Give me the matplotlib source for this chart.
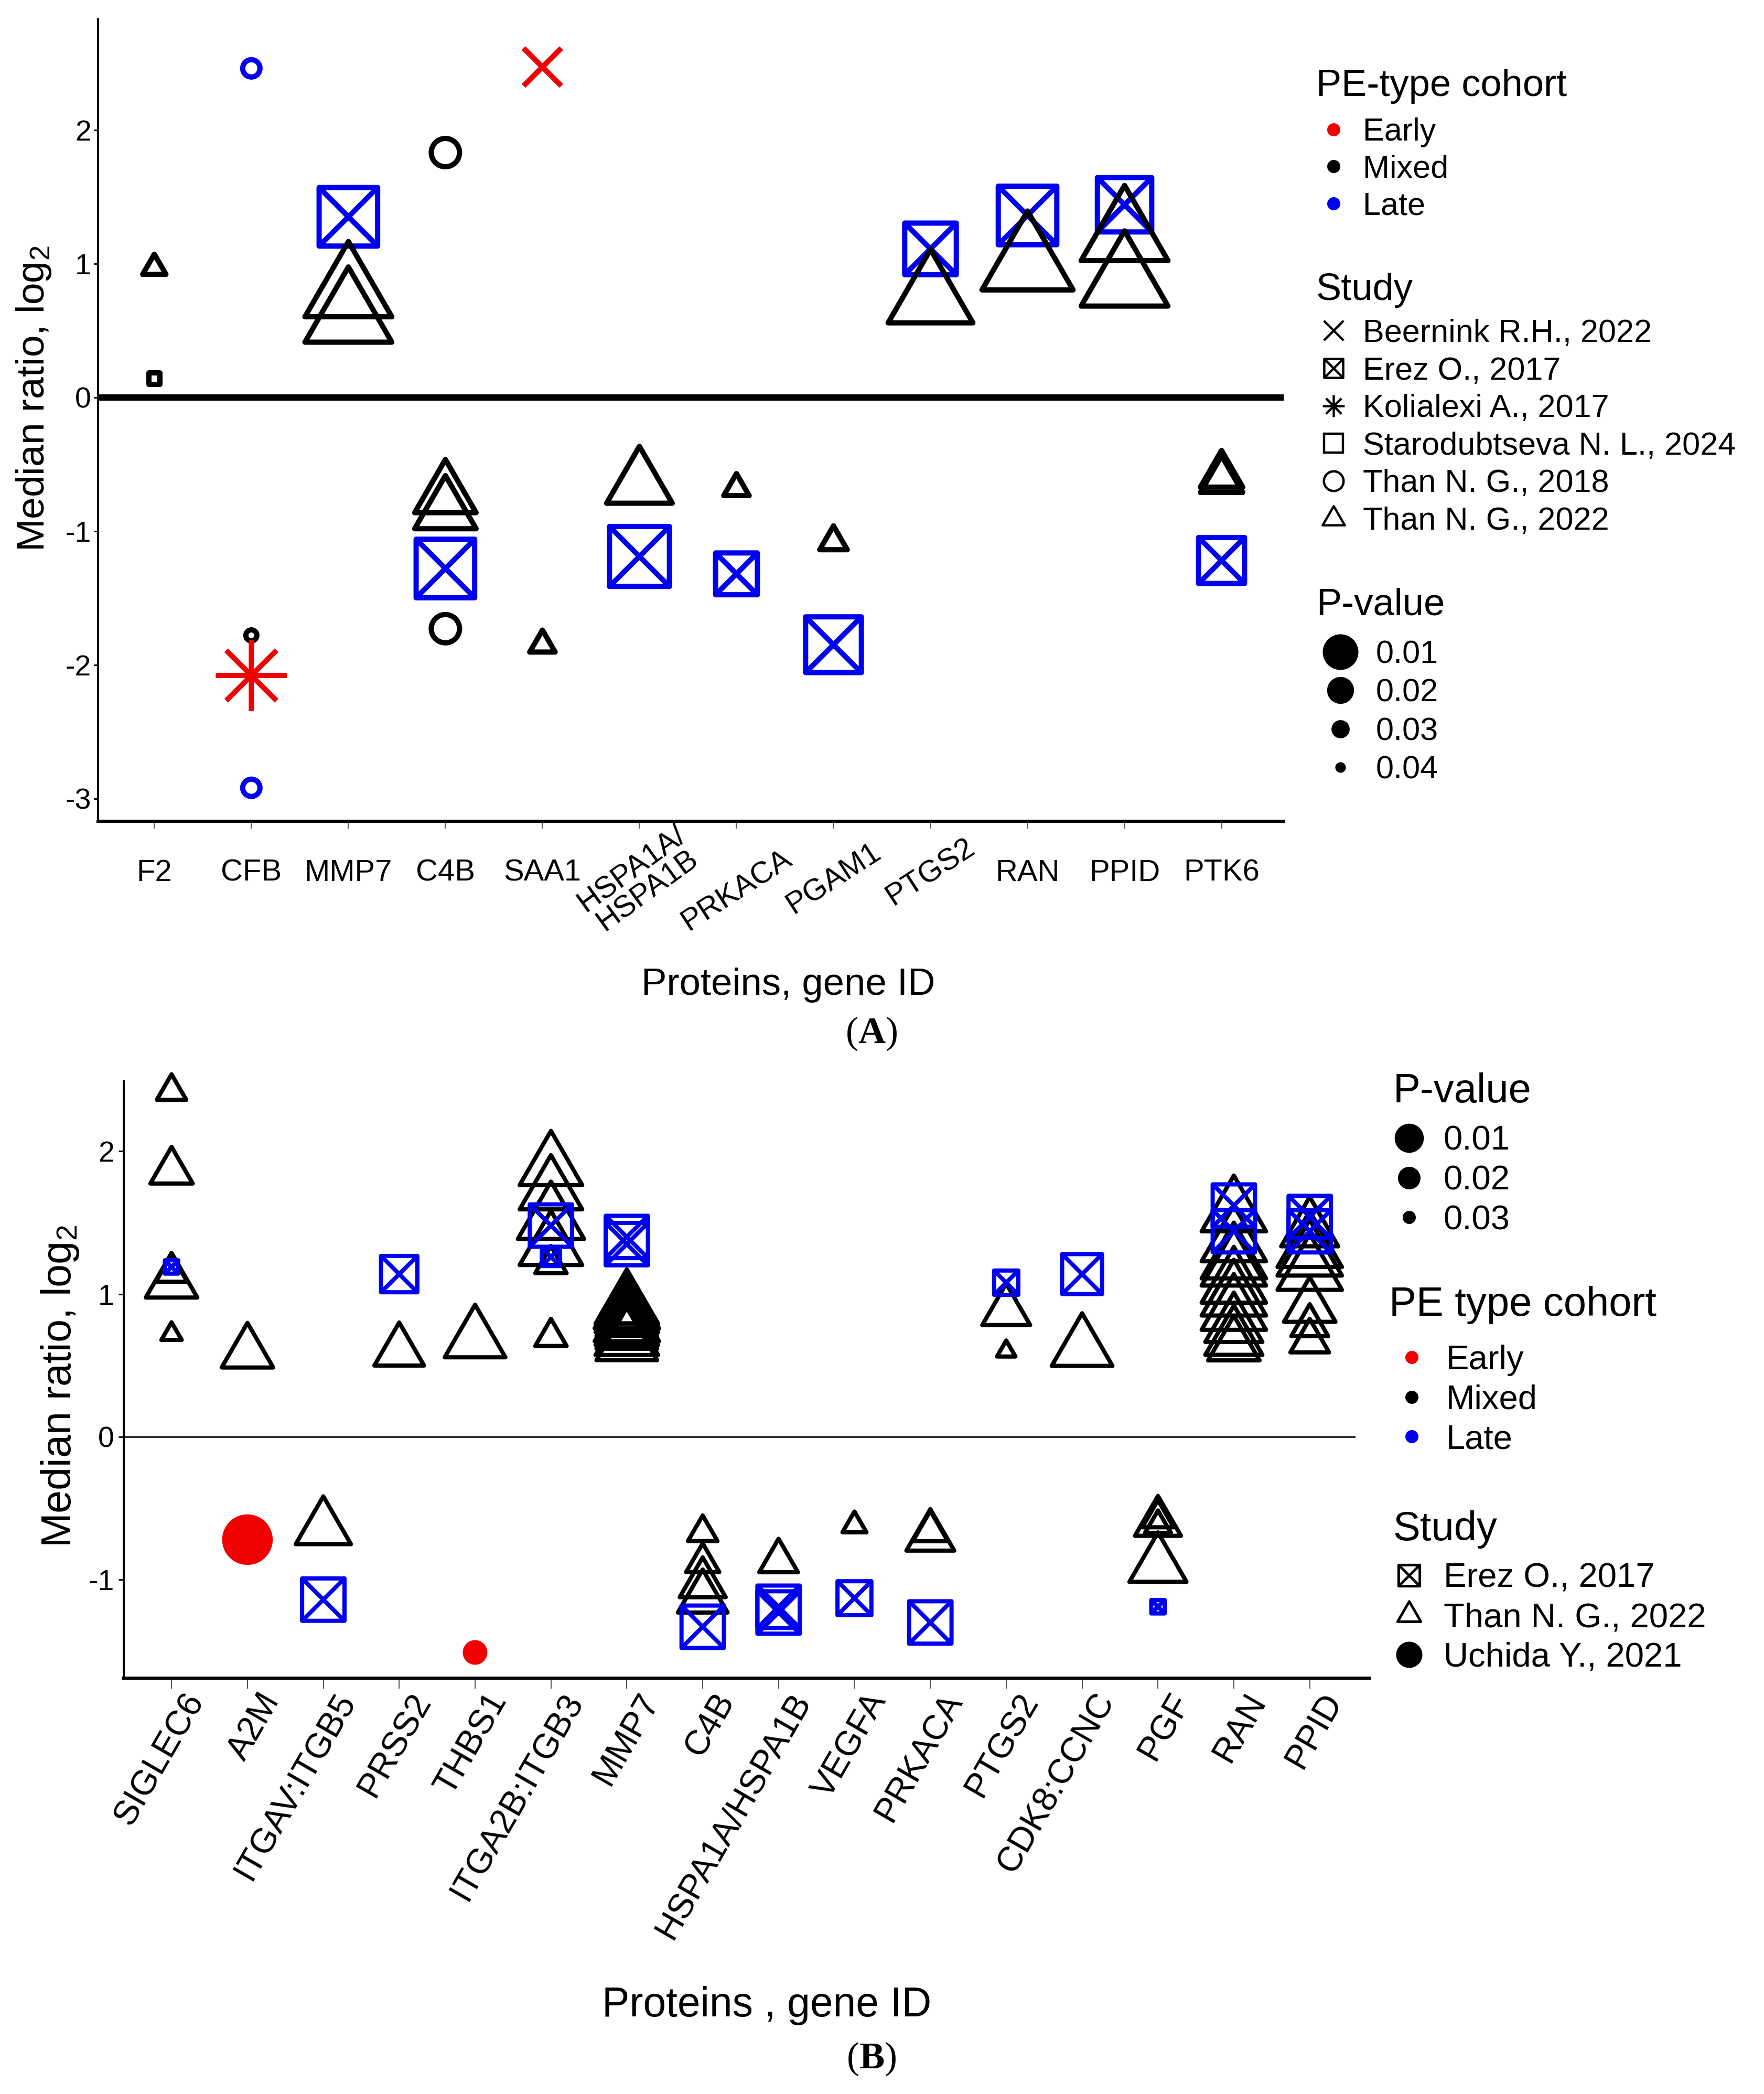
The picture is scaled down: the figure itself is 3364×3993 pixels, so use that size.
import matplotlib
matplotlib.use("Agg")
import matplotlib.pyplot as plt
from matplotlib.path import Path
from matplotlib.lines import Line2D
from matplotlib import font_manager

# ---------------- data: panel A ----------------
genes_a = ['F2', 'CFB', 'MMP7', 'C4B', 'SAA1', 'HSPA1A/HSPA1B', 'PRKACA',
           'PGAM1', 'PTGS2', 'RAN', 'PPID', 'PTK6']
ticks_a = ['F2', 'CFB', 'MMP7', 'C4B', 'SAA1', 'HSPA1A/\nHSPA1B', 'PRKACA',
           'PGAM1', 'PTGS2', 'RAN', 'PPID', 'PTK6']

a_gene = ['F2', 'F2', 'CFB', 'CFB', 'CFB', 'CFB', 'MMP7', 'MMP7', 'MMP7',
          'C4B', 'C4B', 'C4B', 'C4B', 'C4B', 'SAA1', 'SAA1',
          'HSPA1A/HSPA1B', 'HSPA1A/HSPA1B', 'PRKACA', 'PRKACA', 'PGAM1', 'PGAM1',
          'PTGS2', 'PTGS2', 'RAN', 'RAN', 'PPID', 'PPID', 'PPID',
          'PTK6', 'PTK6', 'PTK6']
a_ratio = [0.97, 0.14, 2.46, -1.78, -2.08, -2.92, 1.35, 0.79, 0.60,
           1.83, -0.73, -0.85, -1.28, -1.73, 2.47, -1.85,
           -0.65, -1.19, -0.68, -1.32, -1.08, -1.85,
           0.74, 1.11, 1.00, 1.36, 1.21, 0.87, 1.44,
           -0.58, -0.62, -1.22]
a_study = ['than22', 'staro', 'than18', 'than18', 'koli', 'than18', 'erez', 'than22', 'than22',
           'than18', 'than22', 'than22', 'erez', 'than18', 'beer', 'than22',
           'than22', 'erez', 'than22', 'erez', 'than22', 'erez',
           'than22', 'erez', 'than22', 'erez', 'than22', 'than22', 'erez',
           'than22', 'than22', 'erez']
a_cohort = ['Mixed', 'Mixed', 'Late', 'Mixed', 'Early', 'Late', 'Late', 'Mixed', 'Mixed',
            'Mixed', 'Mixed', 'Mixed', 'Late', 'Mixed', 'Early', 'Mixed',
            'Mixed', 'Late', 'Mixed', 'Late', 'Mixed', 'Late',
            'Mixed', 'Late', 'Mixed', 'Late', 'Mixed', 'Mixed', 'Late',
            'Mixed', 'Mixed', 'Late']
a_pval = [0.037, 0.040, 0.037, 0.041, 0.016, 0.037, 0.006, 0.007, 0.007,
          0.030, 0.019, 0.019, 0.006, 0.030, 0.024, 0.036,
          0.017, 0.005, 0.036, 0.018, 0.035, 0.008,
          0.008, 0.011, 0.005, 0.006, 0.007, 0.007, 0.009,
          0.028, 0.028, 0.015]

# ---------------- data: panel B ----------------
genes_b = ['SIGLEC6', 'A2M', 'ITGAV:ITGB5', 'PRSS2', 'THBS1', 'ITGA2B:ITGB3', 'MMP7',
           'C4B', 'HSPA1A/HSPA1B', 'VEGFA', 'PRKACA', 'PTGS2', 'CDK8:CCNC', 'PGF',
           'RAN', 'PPID']

b_gene = (['SIGLEC6'] * 6 + ['A2M'] * 2 + ['ITGAV:ITGB5'] * 2 + ['PRSS2'] * 2
          + ['THBS1'] * 2 + ['ITGA2B:ITGB3'] * 8 + ['MMP7'] * 12 + ['C4B'] * 5
          + ['HSPA1A/HSPA1B'] * 3 + ['VEGFA'] * 2 + ['PRKACA'] * 3 + ['PTGS2'] * 3
          + ['CDK8:CCNC'] * 2 + ['PGF'] * 5 + ['RAN'] * 12 + ['PPID'] * 9)
b_ratio = [2.42, 1.86, 1.15, 1.08, 1.19, 0.72,
           0.59, -0.72,
           -0.64, -1.14,
           1.14, 0.60,
           0.68, -1.51,
           1.89, 1.72, 1.52, 1.33, 1.21, 0.70, 1.48, 1.26,
           0.92, 0.89, 0.86, 0.83, 0.80, 0.77, 0.74, 0.70, 0.66, 0.84, 1.40, 1.35,
           -0.67, -0.88, -1.03, -1.13, -1.33,
           -0.87, -1.19, -1.23,
           -0.62, -1.13,
           -0.70, -0.66, -1.30,
           1.08, 0.88, 0.60,
           1.14, 0.62,
           -0.60, -0.57, -0.62, -0.90, -1.19,
           1.62, 1.44, 1.57, 1.36, 1.24, 1.19, 1.07, 0.98, 0.88, 0.78, 0.69, 0.64,
           1.54, 1.44, 1.45, 1.32, 1.26, 1.16, 0.91, 0.78, 0.67]
b_study = (['than22', 'than22', 'than22', 'than22', 'erez', 'than22']
           + ['than22', 'uchida'] + ['than22', 'erez'] + ['erez', 'than22']
           + ['than22', 'uchida']
           + ['than22'] * 6 + ['erez', 'erez']
           + ['than22'] * 10 + ['erez', 'erez']
           + ['than22'] * 4 + ['erez']
           + ['than22', 'erez', 'erez'] + ['than22', 'erez']
           + ['than22', 'than22', 'erez'] + ['erez', 'than22', 'than22']
           + ['erez', 'than22'] + ['than22'] * 4 + ['erez']
           + ['erez', 'erez'] + ['than22'] * 10
           + ['erez', 'erez'] + ['than22'] * 7)
b_pval = [0.027, 0.020, 0.026, 0.015, 0.032, 0.032,
          0.015, 0.006,
          0.013, 0.008,
          0.013, 0.016,
          0.010, 0.025,
          0.009, 0.009, 0.007, 0.009, 0.026, 0.026, 0.008, 0.028,
          0.009, 0.008, 0.009, 0.010, 0.008, 0.009, 0.010, 0.009, 0.010, 0.031, 0.008, 0.008,
          0.027, 0.025, 0.018, 0.016, 0.008,
          0.022, 0.008, 0.008,
          0.030, 0.015,
          0.017, 0.024, 0.008,
          0.023, 0.017, 0.033,
          0.010, 0.010,
          0.018, 0.026, 0.029, 0.012, 0.032,
          0.008, 0.008, 0.008, 0.008, 0.008, 0.008, 0.008, 0.008, 0.008, 0.012, 0.012, 0.015,
          0.008, 0.008, 0.012, 0.008, 0.008, 0.008, 0.015, 0.023, 0.022]
cohort_of_study_b = {'than22': 'Mixed', 'erez': 'Late', 'uchida': 'Early'}
b_cohort = [cohort_of_study_b[s] for s in b_study]

study_names = {'beer': 'Beernink R.H., 2022', 'erez': 'Erez O., 2017',
               'koli': 'Kolialexi A., 2017', 'staro': 'Starodubtseva N. L., 2024',
               'than18': 'Than N. G., 2018', 'than22': 'Than N. G., 2022',
               'uchida': 'Uchida Y., 2021'}
cohorts = ['Early', 'Mixed', 'Late']
colors = {'Early': '#F00000', 'Mixed': 'black', 'Late': '#0000F0'}

# ---------------- figure setup ----------------
W, H, DPI = 3364, 3993, 100
PX = 72.0 / DPI

names = {f.name for f in font_manager.fontManager.ttflist}
NARROW = 'Liberation Sans Narrow' if 'Liberation Sans Narrow' in names else 'Liberation Sans'
NS = 1.0 if NARROW == 'Liberation Sans Narrow' else 0.87

plt.rcParams['font.family'] = ['Liberation Sans', 'DejaVu Sans']
plt.rcParams['axes.unicode_minus'] = False
plt.rcParams['mathtext.fontset'] = 'custom'
plt.rcParams['mathtext.rm'] = 'Liberation Sans'
plt.rcParams['mathtext.bf'] = 'Liberation Serif:bold'
plt.rcParams['mathtext.default'] = 'regular'

# marker shapes (ggplot-like, centred on centroid)
M, L, C = Path.MOVETO, Path.LINETO, Path.CLOSEPOLY
s = 0.886
paths = {
    'tri': Path([(0, 1.555), (-1.347, -0.778), (1.347, -0.778), (0, 1.555)], [M, L, L, C]),
    'boxx': Path([(-s, -s), (s, -s), (s, s), (-s, s), (-s, -s),
                  (-s, -s), (s, s), (-s, s), (s, -s)],
                 [M, L, L, L, C, M, L, M, L]),
    'star': Path([(-1.414, 0), (1.414, 0), (0, -1.414), (0, 1.414),
                  (-1, -1), (1, 1), (-1, 1), (1, -1)], [M, L, M, L, M, L, M, L]),
    'cross': Path([(-1, -1), (1, 1), (-1, 1), (1, -1)], [M, L, M, L]),
    'ring': 'o', 'square': 's', 'dot': 'o',
}
factor = {'tri': 3.11, 'boxx': 1.772, 'star': 2.83, 'cross': 2.0,
          'ring': 2.0, 'square': 1.772, 'dot': 2.0}
kind_of = {'beer': 'cross', 'erez': 'boxx', 'koli': 'star', 'staro': 'square',
           'than18': 'ring', 'than22': 'tri', 'uchida': 'dot'}


def draw_panel(ax, genes, g, y, st, co, pv, order, umax, slope, lw):
    for study in order:
        kind = kind_of[study]
        for c in cohorts:
            idx = [i for i in range(len(y)) if st[i] == study and co[i] == c]
            if not idx:
                continue
            xs = [genes.index(g[i]) + 1 for i in idx]
            ys = [y[i] for i in idx]
            sz = [(factor[kind] * (umax - slope * pv[i]) * PX) ** 2 for i in idx]
            if kind == 'dot':
                ax.scatter(xs, ys, s=sz, marker='o', color=colors[c], linewidths=0,
                           zorder=3, clip_on=False)
            else:
                ax.scatter(xs, ys, s=sz, marker=paths[kind], facecolors='none',
                           edgecolors=colors[c], linewidths=lw, zorder=3, clip_on=False)


fig = plt.figure(figsize=(W / DPI, H / DPI), dpi=DPI)

# ---------------- panel A ----------------
axA = fig.add_axes([187 / W, 1 - 1566 / H, (2448 - 187) / W, (1566 - 36) / H])
axA.axhline(0, color='black', lw=12 * PX, zorder=2)
draw_panel(axA, genes_a, a_gene, a_ratio, a_study, a_cohort, a_pval,
           ['erez', 'than22', 'than18', 'staro', 'koli', 'beer'], 72, 1500, 10 * PX)
axA.set_xlim(0.42, 12.64)
axA.set_ylim(-3.17, 2.83)
axA.set_yticks([-3, -2, -1, 0, 1, 2])
axA.set_yticklabels(['-3', '-2', '-1', '0', '1', '2'], family=NARROW, fontsize=40)
axA.set_xticks(range(1, 13))
axA.set_xticklabels([])
axA.tick_params(axis='x', length=14 * PX, width=2 * PX, color='#555555')
axA.tick_params(axis='y', length=8 * PX, width=3 * PX, pad=5 * PX)
for sp in ['top', 'right']:
    axA.spines[sp].set_visible(False)
axA.spines['left'].set_linewidth(4 * PX)
axA.spines['bottom'].set_linewidth(6 * PX)

rot_a = [0, 0, 0, 0, 0, 36, 33, 33, 33, 0, 0, 0]
off_a = [-99, -99, -99, -99, -99, -112, -132, -110, -97, -99, -99, -99]
for i, lab in enumerate(ticks_a):
    axA.annotate(lab, xy=(i + 1, 0), xycoords=('data', 'axes fraction'),
                 xytext=(0, off_a[i] * PX), textcoords='offset points', ha='center',
                 va='center', rotation=rot_a[i], rotation_mode='anchor',
                 fontsize=48 * NS, family=NARROW, linespacing=0.95)

axA.set_ylabel('Median ratio, log$_2$', fontsize=54, va='center')
axA.yaxis.set_label_coords(-0.054, 0.527)
axA.set_xlabel('Proteins, gene ID', fontsize=60 * NS, family=NARROW, va='center')
axA.xaxis.set_label_coords(0.582, -0.204)

# ---------------- panel B ----------------
axB = fig.add_axes([236 / W, 1 - 3200 / H, (2612 - 236) / W, (3200 - 2062) / H])
axB.axhline(0, xmax=0.988, color='#333333', lw=4 * PX, zorder=2)
draw_panel(axB, genes_b, b_gene, b_ratio, b_study, b_cohort, b_pval,
           ['than22', 'erez', 'uchida'], 56, 1300, 8 * PX)
axB.set_xlim(0.37, 16.79)
axB.set_ylim(-1.69, 2.49)
axB.set_yticks([-1, 0, 1, 2])
axB.set_yticklabels(['-1', '0', '1', '2'], family=NARROW, fontsize=40)
axB.set_xticks(range(1, 17))
axB.set_xticklabels([])
axB.tick_params(axis='x', length=20 * PX, width=2 * PX, color='#555555')
axB.tick_params(axis='y', length=10 * PX, width=3 * PX, pad=8 * PX)
for sp in ['top', 'right']:
    axB.spines[sp].set_visible(False)
axB.spines['left'].set_linewidth(4 * PX)
axB.spines['bottom'].set_linewidth(6 * PX)

for i, lab in enumerate(genes_b):
    axB.annotate(lab, xy=(i + 1, 0), xycoords=('data', 'axes fraction'),
                 xytext=(20 * PX, -18 * PX), textcoords='offset points', ha='right',
                 va='top', rotation=60, rotation_mode='anchor', fontsize=47.5)

axB.set_ylabel('Median ratio, log$_2$', fontsize=57, va='center')
axB.yaxis.set_label_coords(-0.0513, 0.489)
axB.set_xlabel('Proteins , gene ID', fontsize=65 * NS, family=NARROW, va='center')
axB.xaxis.set_label_coords(0.516, -0.549)

fig.text(1662 / W, 1 - 1971 / H, '($\\mathbf{A}$)', ha='center', va='center',
         fontsize=52, family='Liberation Serif')
fig.text(1662 / W, 1 - 3926 / H, '($\\mathbf{B}$)', ha='center', va='center',
         fontsize=52, family='Liberation Serif')


# ---------------- legends ----------------
def key(kind, ms, color='black', mew=3.0):
    if kind == 'dot':
        return Line2D([], [], ls='none', marker='o', ms=ms, mfc=color, mec=color, mew=0)
    return Line2D([], [], ls='none', marker=paths[kind], ms=ms, mfc='none',
                  mec=color, mew=mew)


def add_legend(handles, labels, title, x, y, fs, tfs, hl, pad, ls, sep):
    leg = fig.legend(handles, labels, title=title, loc='upper left',
                     bbox_to_anchor=(x / W, 1 - y / H), bbox_transform=fig.transFigure,
                     frameon=False, fontsize=fs, title_fontsize=tfs, handlelength=hl,
                     handletextpad=pad, labelspacing=ls, borderpad=0, borderaxespad=0,
                     alignment='left')
    leg._legend_box.sep = sep
    return leg


key_ms_a = {'cross': 27, 'boxx': 26, 'star': 30, 'square': 26, 'ring': 27, 'tri': 35}
study_a = ['beer', 'erez', 'koli', 'staro', 'than18', 'than22']
add_legend([key('dot', 18, colors[c]) for c in cohorts], cohorts,
           'PE-type cohort', 2510, 131, 44, 52, 1.08, 0.38, 0.22, 19)
add_legend([key(kind_of[st], key_ms_a[kind_of[st]], mew=3.2) for st in study_a],
           [study_names[st] for st in study_a], 'Study', 2510, 520, 44, 52,
           1.08, 0.38, 0.24, 15)
pv_a = ['0.01', '0.02', '0.03', '0.04']
add_legend([key('dot', m) for m in [49, 37, 25, 14.5]], pv_a,
           'P-value', 2510, 1120, 44, 52, 1.5, 0.36, 0.27, 24)

pv_b = ['0.01', '0.02', '0.03']
add_legend([key('dot', m) for m in [40, 31, 18]], pv_b,
           'P-value', 2657, 2045, 47, 56, 0.92, 0.55, 0.24, 20)
add_legend([key('dot', 18, colors[c]) for c in cohorts], cohorts,
           'PE type cohort', 2649, 2452, 47, 56, 1.32, 0.35, 0.24, 28)
study_b = ['erez', 'than22', 'uchida']
key_ms_b = {'boxx': 29, 'tri': 37, 'dot': 36}
add_legend([key(kind_of[st], key_ms_b[kind_of[st]], mew=3.6) for st in study_b],
           [study_names[st] for st in study_b], 'Study', 2657, 2880, 47, 56,
           0.92, 0.55, 0.24, 19)

fig.savefig('out.png', dpi=DPI, facecolor='white')
